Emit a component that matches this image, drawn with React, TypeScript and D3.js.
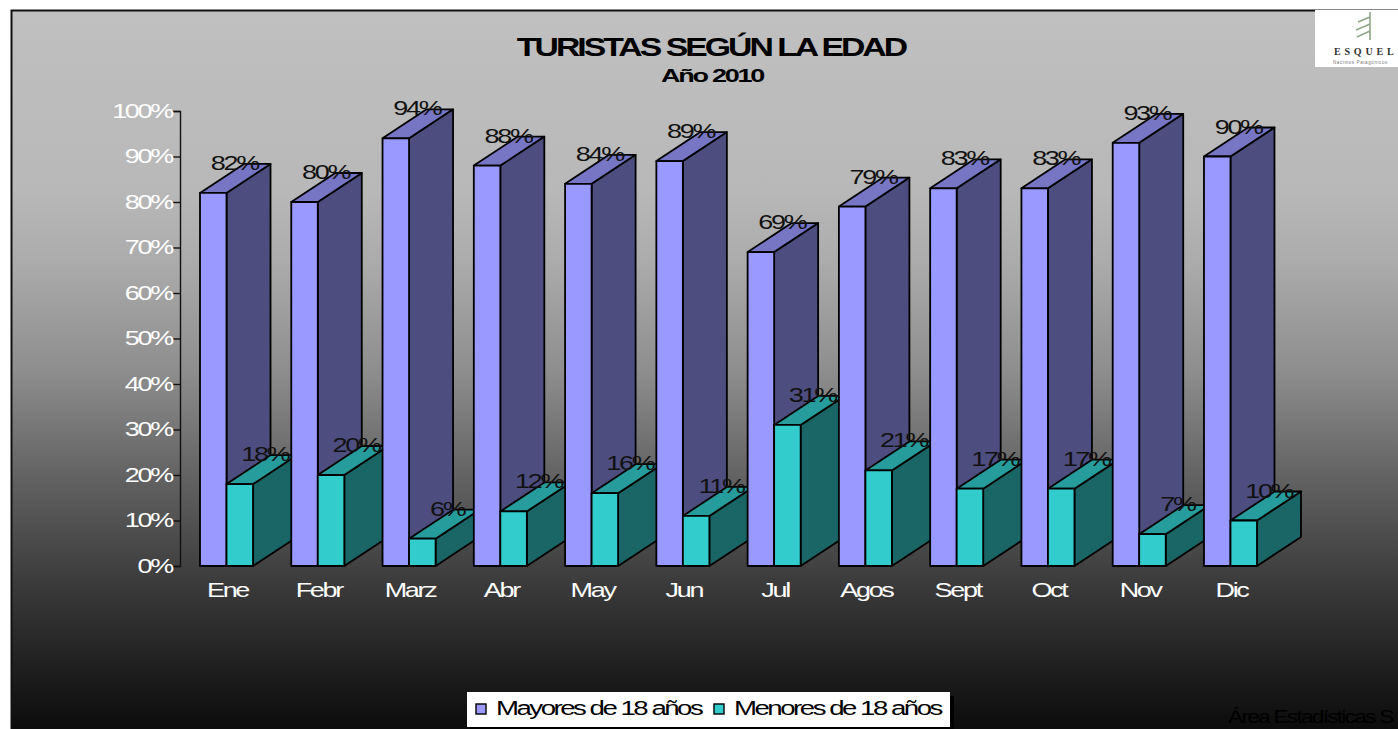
import { useEffect, useRef } from "react";
import * as d3 from "d3";

const months = ["Ene", "Febr", "Marz", "Abr", "May", "Jun", "Jul", "Agos", "Sept", "Oct", "Nov", "Dic"];
const mayores = [82, 80, 94, 88, 84, 89, 69, 79, 83, 83, 93, 90];
const menores = [18, 20, 6, 12, 16, 11, 31, 21, 17, 17, 7, 10];
const yTicks = [0, 10, 20, 30, 40, 50, 60, 70, 80, 90, 100];
const seriesNames = ["Mayores de 18 años", "Menores de 18 años"];

const W = 1398;
const H = 729;
const FONT = "'Liberation Sans', Arial, sans-serif";
// the original picture is stretched sideways, so text is widened with a scale
const STRETCH = 1.35;
const DEPTH_X = 44;
const DEPTH_Y = -29;

const App = () => {
  const ref = useRef<SVGSVGElement>(null);

  useEffect(() => {
    const svg = d3.select(ref.current);
    svg.selectAll("*").remove();

    const defs = svg.append("defs");
    const grad = defs
      .append("linearGradient")
      .attr("id", "bg")
      .attr("x1", 0)
      .attr("y1", 0)
      .attr("x2", 0)
      .attr("y2", 1);
    const stops = [
      [0, "#c0c0c0"],
      [0.25, "#b8b8b8"],
      [0.35, "#ababab"],
      [0.5, "#8e8e8e"],
      [0.65, "#626262"],
      [0.8, "#3a3a3a"],
      [0.9, "#222222"],
      [1, "#0c0c0c"],
    ];
    stops.forEach((s) => grad.append("stop").attr("offset", s[0]).attr("stop-color", s[1]));

    // plot background
    svg
      .append("rect")
      .attr("x", 12)
      .attr("y", 11)
      .attr("width", W - 12)
      .attr("height", H - 11)
      .attr("fill", "url(#bg)");
    svg.append("path").attr("d", `M11.5,${H}V10.5H${W}`).attr("fill", "none").attr("stroke", "#111").attr("stroke-width", 2);

    const x = d3.scaleBand().domain(months).range([200, 1257]).paddingInner(0.419).paddingOuter(0);
    const inner = d3.scaleBand().domain(seriesNames).range([0, x.bandwidth()]);
    const y = d3.scaleLinear().domain([0, 100]).range([566, 111]);

    // y axis
    const yAxis = svg
      .append("g")
      .attr("transform", "translate(180,0)")
      .call(
        d3
          .axisLeft(y)
          .tickValues(yTicks)
          .tickSize(8)
          .tickPadding(0)
          .tickFormat((d) => `${d}%`)
      );
    yAxis.selectAll("path,line").attr("stroke", "#111").attr("stroke-width", 1.4);
    yAxis
      .selectAll("text")
      .attr("fill", "#fff")
      .attr("font-family", FONT)
      .attr("font-size", 20)
      .attr("letter-spacing", -1.7)
      .attr("x", -8 / STRETCH)
      .attr("transform", `scale(${STRETCH},1)`);

    // x axis
    const xAxis = svg
      .append("g")
      .attr("transform", "translate(1,566)")
      .call(d3.axisBottom(x).tickSize(0).tickPadding(17));
    xAxis.select(".domain").remove();
    xAxis
      .selectAll("text")
      .attr("fill", "#fff")
      .attr("font-family", FONT)
      .attr("font-size", 20)
      .attr("letter-spacing", -1.7)
      .attr("transform", `scale(${STRETCH},1)`);

    const bar = (
      g: d3.Selection<SVGGElement, unknown, null, undefined>,
      x0: number,
      w: number,
      value: number,
      colors: string[]
    ) => {
      const x1 = x0 + w;
      const top = y(value);
      const base = y(0);
      const face = (pts: number[][], fill: string) =>
        g
          .append("polygon")
          .attr("points", pts.map((p) => p.join(",")).join(" "))
          .attr("fill", fill)
          .attr("stroke", "#000")
          .attr("stroke-width", 1.8)
          .attr("stroke-linejoin", "round");
      face([[x1, base], [x1 + DEPTH_X, base + DEPTH_Y], [x1 + DEPTH_X, top + DEPTH_Y], [x1, top]], colors[2]);
      face([[x0, top], [x0 + DEPTH_X, top + DEPTH_Y], [x1 + DEPTH_X, top + DEPTH_Y], [x1, top]], colors[1]);
      face([[x0, base], [x0, top], [x1, top], [x1, base]], colors[0]);
    };

    const bars = svg.append("g");
    months.forEach((m, i) => {
      const g = bars.append("g");
      bar(g, x(m)!, inner.bandwidth(), mayores[i], ["#9999ff", "#7676c4", "#4d4d80"]);
      bar(g, x(m)! + inner.step(), inner.bandwidth(), menores[i], ["#33cccc", "#269c9c", "#1a6666"]);
    });

    const stretched = (
      tx: number,
      ty: number,
      label: string,
      size: number,
      spacing: number,
      sx: number,
      fill: string,
      anchor = "start",
      weight = "normal",
      family = FONT
    ) =>
      svg
        .append("text")
        .attr("transform", `translate(${tx},${ty}) scale(${sx},1)`)
        .attr("text-anchor", anchor)
        .attr("font-family", family)
        .attr("font-size", size)
        .attr("font-weight", weight)
        .attr("letter-spacing", spacing)
        .attr("fill", fill)
        .text(label);

    // value labels on top of everything
    months.forEach((m, i) => {
      stretched(x(m)! + inner.bandwidth() / 2 + 21, y(mayores[i]) - 23, `${mayores[i]}%`, 20, -1.7, STRETCH, "#111", "middle");
      stretched(
        x(m)! + inner.step() + inner.bandwidth() / 2 + 25,
        y(menores[i]) - 23,
        `${menores[i]}%`,
        20,
        -1.7,
        STRETCH,
        "#111",
        "middle"
      );
    });

    // titles
    stretched(711, 56, "TURISTAS SEGÚN LA EDAD", 25, -2.2, 1.35, "#000", "middle", "bold");
    stretched(712, 82, "Año 2010", 19, -1.6, 1.42, "#000", "middle", "bold");

    // legend
    svg.append("rect").attr("x", 470).attr("y", 696).attr("width", 484).attr("height", 33).attr("fill", "#000");
    svg.append("rect").attr("x", 467).attr("y", 692).attr("width", 483).attr("height", 35).attr("fill", "#fff");
    const legendX = [476, 714];
    const legendColors = ["#9999ff", "#33cccc"];
    seriesNames.forEach((name, i) => {
      svg
        .append("rect")
        .attr("x", legendX[i])
        .attr("y", 704)
        .attr("width", 10)
        .attr("height", 10)
        .attr("fill", legendColors[i])
        .attr("stroke", "#000")
        .attr("stroke-width", 1.4);
      stretched(legendX[i] + 20, 715, name, 20, -1.8, 1.38, "#000");
    });

    // footer, runs off the edge
    stretched(1228, 723, "Área Estadísticas S", 19, -1.5, 1.2, "#000");

    // logo
    const logo = svg.append("g");
    logo.append("rect").attr("x", 1315).attr("y", 10).attr("width", 83).attr("height", 57).attr("fill", "#fff");
    logo
      .append("path")
      .attr("d", "M1370,12V40M1358,22L1370,17M1356,30L1370,24M1357,37L1370,31")
      .attr("fill", "none")
      .attr("stroke", "#8fa888")
      .attr("stroke-width", 1.6);
    stretched(1334, 55, "ESQUEL", 10, 3.8, 1, "#333", "start", "bold", "'Liberation Serif', serif");
    stretched(1333, 64, "Nacimos Patagónicos", 4.5, 0.6, 1, "#777");
  }, []);

  return (
    <svg
      ref={ref}
      width={W}
      height={H}
      style={{ position: "absolute", left: 0, top: 0, display: "block" }}
    />
  );
};

export default App;
